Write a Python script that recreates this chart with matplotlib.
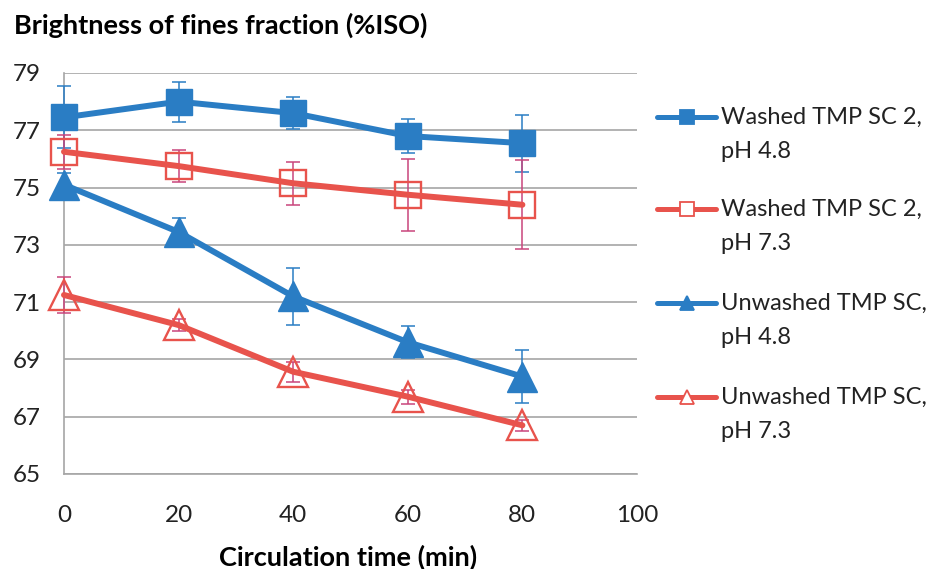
import matplotlib
matplotlib.use("Agg")
import matplotlib.pyplot as plt
from matplotlib.lines import Line2D
import numpy as np

plt.rcParams['font.family'] = ['Lato', 'DejaVu Sans']

# circulation time (min)
time_min = [0, 20, 40, 60, 80]

# brightness of fines fraction (%ISO) and error bar half-widths
washed_ph48 = [77.45, 78.0, 77.6, 76.8, 76.55]
washed_ph48_err = [1.08, 0.7, 0.55, 0.6, 1.0]
washed_ph73 = [76.25, 75.75, 75.15, 74.75, 74.4]
washed_ph73_err = [0.6, 0.55, 0.75, 1.25, 1.55]
unwashed_ph48 = [75.1, 73.45, 71.2, 69.6, 68.4]
unwashed_ph48_err = [0.4, 0.5, 1.0, 0.55, 0.93]
unwashed_ph73 = [71.25, 70.2, 68.57, 67.7, 66.7]
unwashed_ph73_err = [0.62, 0.2, 0.35, 0.25, 0.2]

labels = ['Washed TMP SC 2,\npH 4.8', 'Washed TMP SC 2,\npH 7.3',
          'Unwashed TMP SC,\npH 4.8', 'Unwashed TMP SC,\npH 7.3']

BLUE = '#2A7DC4'
RED = '#E8534C'
BLUE_ERR = '#2A7DC4'
RED_ERR = '#C9457C'
GRID = '#A6A6A6'

series = [
    (washed_ph48, washed_ph48_err, BLUE, BLUE_ERR, 's', True, 19),
    (washed_ph73, washed_ph73_err, RED, RED_ERR, 's', False, 19),
    (unwashed_ph48, unwashed_ph48_err, BLUE, BLUE_ERR, '^', True, 21),
    (unwashed_ph73, unwashed_ph73_err, RED, RED_ERR, '^', False, 21),
]

W, H = 929, 569
fig = plt.figure(figsize=(W / 100, H / 100), dpi=100)
ax = fig.add_axes([64 / W, 1 - 474 / H, 573 / W, 401 / H])

for vals, err, col, ecol, mk, filled, ms in series:
    eb = ax.errorbar(time_min, vals, yerr=err, fmt='none', ecolor=ecol,
                     elinewidth=1.1, capsize=5, capthick=1.1, zorder=3)
    for child in eb.get_children():
        child.set_clip_on(False)
    ax.plot(time_min, vals, color=col, linewidth=4.3, marker=mk,
            markersize=ms, markerfacecolor=col if filled else 'none',
            markeredgecolor=col, markeredgewidth=1.0 if filled else 1.7,
            solid_capstyle='round', zorder=4, clip_on=False)

ax.set_xlim(0, 100)
ax.set_ylim(65, 79)
ax.set_xticks(np.arange(0, 101, 20))
ax.set_yticks(np.arange(65, 80, 2))
ax.tick_params(length=0, labelsize=17.5, colors='#222222')
ax.tick_params(axis='y', pad=17)
ax.tick_params(axis='x', pad=22)
ax.grid(axis='y', color=GRID, linewidth=1.2)
ax.set_axisbelow(True)
for side in ['top', 'right']:
    ax.spines[side].set_visible(False)
for side in ['left', 'bottom']:
    ax.spines[side].set_color(GRID)
    ax.spines[side].set_linewidth(1.2)

fig.text(14 / W, 1 - 25 / H, 'Brightness of fines fraction (%ISO)',
         fontsize=19.5, fontweight='bold', ha='left', va='center')
fig.text(348 / W, 1 - 557 / H, 'Circulation time (min)',
         fontsize=19.5, fontweight='bold', ha='center', va='center')

# legend: handle aligned with the first text line of each entry
legend_y = [117, 209, 303, 397]
for (vals, err, col, ecol, mk, filled, ms), lab, yy in zip(series, labels, legend_y):
    fy = 1 - yy / H
    fig.add_artist(Line2D([657 / W, 716 / W], [fy, fy], color=col,
                          linewidth=3.6, solid_capstyle='round',
                          transform=fig.transFigure))
    fig.add_artist(Line2D([687 / W], [fy], marker=mk, markersize=10,
                          markerfacecolor=col if filled else 'white',
                          markeredgecolor=col, markeredgewidth=1.3,
                          transform=fig.transFigure))
    first, second = lab.split('\n')
    fig.text(721 / W, fy, first, fontsize=17, ha='left', va='center', color='#222222')
    fig.text(721 / W, fy - 35 / H, second, fontsize=17, ha='left', va='center', color='#222222')

fig.savefig('out.png', dpi=100)
